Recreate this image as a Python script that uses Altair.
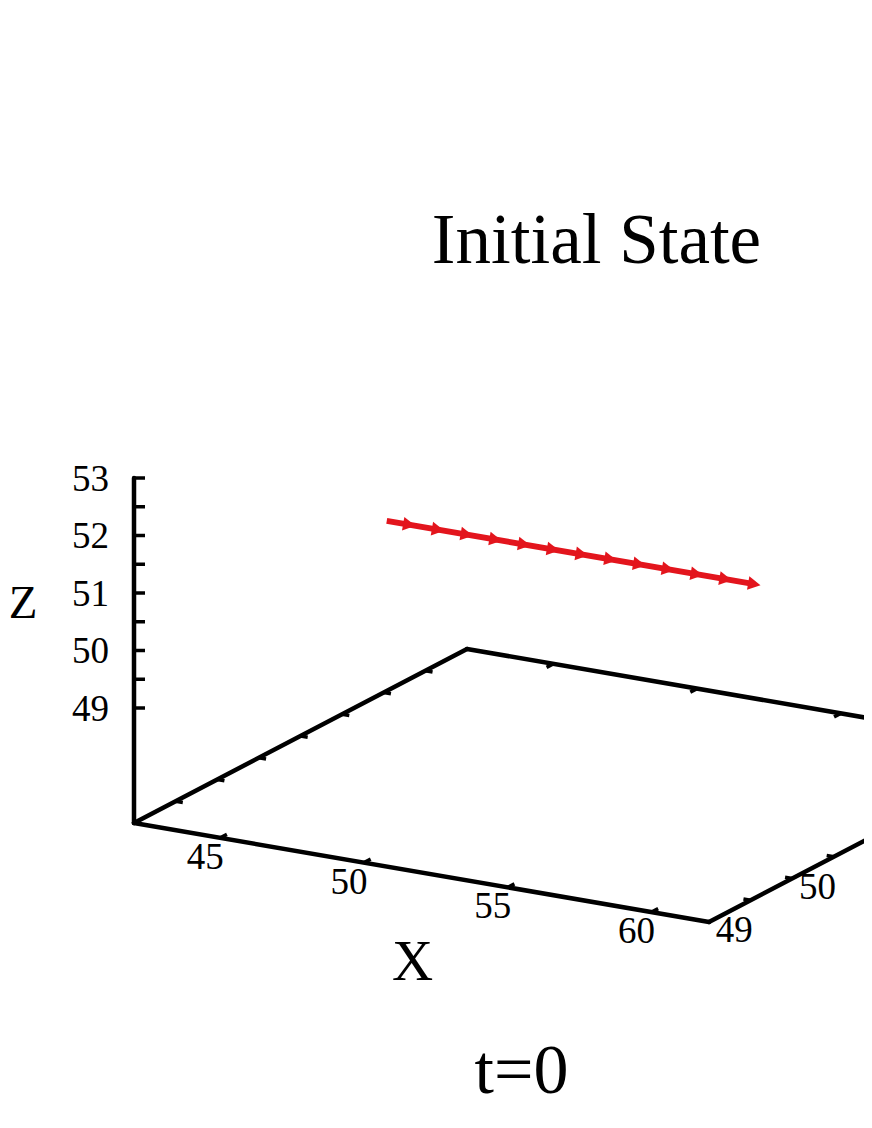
import math
import altair as alt
import pandas as pd

# ---------------- data ----------------
x_range = [42, 62]          # x extent of the base box
y_range = [48.5, 52.5]      # y extent of the base box
z_base = 47                 # level of the base plane (ticslevel)
z_top = 53

x_ticks = [45, 50, 55, 60]
x_tick_labels = ["45", "50", "55", "60"]
y_ticks = [49, 49.5, 50, 50.5, 51, 51.5, 52]
y_label_ticks = [49, 50]          # the only y labels inside the frame
y_tick_labels = ["49", "50"]
z_ticks = [49, 49.5, 50, 50.5, 51, 51.5, 52, 52.5, 53]
z_label_ticks = [49, 50, 51, 52, 53]
z_tick_labels = ["49", "50", "51", "52", "53"]

# initial state: vectors (start point and components)
vec_x = [45, 46, 47, 48, 49, 50, 51, 52, 53, 54, 55, 56, 57]
vec_y = [50.5, 50.5, 50.5, 50.5, 50.5, 50.5, 50.5, 50.5, 50.5, 50.5, 50.5, 50.5, 50.5]
vec_z = [51, 51, 51, 51, 51, 51, 51, 51, 51, 51, 51, 51, 51]
vec_dx = [1, 1, 1, 1, 1, 1, 1, 1, 1, 1, 1, 1, 1]
vec_dy = [0, 0, 0, 0, 0, 0, 0, 0, 0, 0, 0, 0, 0]
vec_dz = [0, 0, 0, 0, 0, 0, 0, 0, 0, 0, 0, 0, 0]

title_text = "Initial State"
time_text = "t=0"
xlabel_text = "X"
zlabel_text = "Z"

# ---------------- view (projection) ----------------
ORIGIN = (134.0, 823.0)      # screen position of (xmin, ymin, zbase)
EX = (28.75, 4.95)           # screen step per x unit
EY = (83.25, -43.5)          # screen step per y unit
EZ = (0.0, -57.5)            # screen step per z unit


def proj(x, y, z):
    sx = ORIGIN[0] + (x - x_range[0]) * EX[0] + (y - y_range[0]) * EY[0] + (z - z_base) * EZ[0]
    sy = ORIGIN[1] + (x - x_range[0]) * EX[1] + (y - y_range[0]) * EY[1] + (z - z_base) * EZ[1]
    return sx, sy


def seg(p, q, kind):
    return {"sx": p[0], "sy": p[1], "sx2": q[0], "sy2": q[1], "kind": kind}


x0, x1 = x_range
y0, y1 = y_range

# box edges + z axis
axes = [
    seg(proj(x0, y0, z_base), proj(x1, y0, z_base), "axis"),
    seg(proj(x1, y0, z_base), proj(x1, y1, z_base), "axis"),
    seg(proj(x1, y1, z_base), proj(x0, y1, z_base), "axis"),
    seg(proj(x0, y1, z_base), proj(x0, y0, z_base), "axis"),
    seg(proj(x0, y0, z_base), proj(x0, y0, z_top), "axis"),
]

ticks = []
XT_LEN = 0.08   # in y units
YT_LEN = 0.25   # in x units
ZT_LEN = 11     # screen px
for xv in x_ticks:
    ticks.append(seg(proj(xv, y0, z_base), proj(xv, y0 + XT_LEN, z_base), "tick"))
    ticks.append(seg(proj(xv, y1, z_base), proj(xv, y1 - XT_LEN, z_base), "tick"))
for yv in y_ticks:
    ticks.append(seg(proj(x0, yv, z_base), proj(x0 + YT_LEN, yv, z_base), "tick"))
    ticks.append(seg(proj(x1, yv, z_base), proj(x1 - YT_LEN, yv, z_base), "tick"))
for zv in z_ticks:
    p = proj(x0, y0, zv)
    ticks.append(seg(p, (p[0] + ZT_LEN, p[1]), "tick"))

HEAD_LEN = 12.5
shafts, heads = [], []
for x, y, z, dx, dy, dz in zip(vec_x, vec_y, vec_z, vec_dx, vec_dy, vec_dz):
    p = proj(x, y, z)
    q = proj(x + dx, y + dy, z + dz)
    L = math.hypot(q[0] - p[0], q[1] - p[1])
    ux, uy = (q[0] - p[0]) / L, (q[1] - p[1]) / L
    shafts.append(seg(p, (q[0] - ux * HEAD_LEN * 0.5, q[1] - uy * HEAD_LEN * 0.5), "vec"))
    heads.append({"sx": q[0], "sy": q[1], "ang": math.degrees(math.atan2(uy, ux))})

axes_df = pd.DataFrame(axes)
ticks_df = pd.DataFrame(ticks)
# continuous line through the whole chain of vectors
chain_df = pd.DataFrame([seg(proj(vec_x[0], vec_y[0], vec_z[0]),
                             (shafts[-1]["sx2"], shafts[-1]["sy2"]), "vec")])
head_df = pd.DataFrame(heads)

# labels (baseline positions)
TICK_FS = 37
center_labels = []
for xv, t in zip(x_ticks, x_tick_labels):
    p = proj(xv, y0, z_base)
    center_labels.append({"sx": p[0] - 15, "sy": p[1] + 31, "text": t, "fs": TICK_FS})
for yv, t in zip(y_label_ticks, y_tick_labels):
    p = proj(x1, yv, z_base)
    center_labels.append({"sx": p[0] - 16.5, "sy": p[1] + 42, "text": t, "fs": TICK_FS})
center_labels.append({"sx": 596.5, "sy": 263, "text": title_text, "fs": 71})
center_labels.append({"sx": 521.5, "sy": 1093, "text": time_text, "fs": 70})
center_labels.append({"sx": 412.5, "sy": 980, "text": xlabel_text, "fs": 57})
center_labels.append({"sx": 23, "sy": 618, "text": zlabel_text, "fs": 47})
center_df = pd.DataFrame(center_labels)

right_labels = []
for zv, t in zip(z_label_ticks, z_tick_labels):
    p = proj(x0, y0, zv)
    right_labels.append({"sx": 109, "sy": p[1] + 12.5, "text": t, "fs": TICK_FS})
right_df = pd.DataFrame(right_labels)

# ---------------- chart ----------------
W, H = 856, 1100
RED = "#e3151d"
xs = alt.Scale(domain=[8, 8 + W], nice=False, zero=False)
ys = alt.Scale(domain=[8, 8 + H], nice=False, zero=False, reverse=True)

X = alt.X("sx:Q", scale=xs, axis=None)
Y = alt.Y("sy:Q", scale=ys, axis=None)

axes_layer = alt.Chart(axes_df).mark_rule(color="black", strokeWidth=4.5, strokeCap="round", clip=True).encode(
    x=X, y=Y, x2="sx2:Q", y2="sy2:Q")
ticks_layer = alt.Chart(ticks_df).mark_rule(color="black", strokeWidth=3.5, clip=True).encode(
    x=X, y=Y, x2="sx2:Q", y2="sy2:Q")
chain_layer = alt.Chart(chain_df).mark_rule(color=RED, strokeWidth=6, clip=True).encode(
    x=X, y=Y, x2="sx2:Q", y2="sy2:Q")
head_layer = alt.Chart(head_df).mark_point(
    shape="M0,0L-1,-0.55L-1,0.55Z", filled=True, color=RED, opacity=1, size=625, clip=True
).encode(x=X, y=Y, angle=alt.Angle("ang:Q", scale=None))

text_c = alt.Chart(center_df).mark_text(
    font="Liberation Serif", align="center", baseline="alphabetic", color="black", clip=True
).encode(x=X, y=Y, text="text:N", size=alt.Size("fs:Q", scale=None))
text_r = alt.Chart(right_df).mark_text(
    font="Liberation Serif", align="right", baseline="alphabetic", color="black", clip=True
).encode(x=X, y=Y, text="text:N", size=alt.Size("fs:Q", scale=None))

chart = alt.layer(axes_layer, ticks_layer, chain_layer, head_layer, text_c, text_r).properties(
    width=W, height=H, padding=0, autosize=alt.AutoSizeParams(type="none")
).configure_view(stroke=None)

chart.save("out.html", embed_options={"renderer": "svg", "actions": False})
